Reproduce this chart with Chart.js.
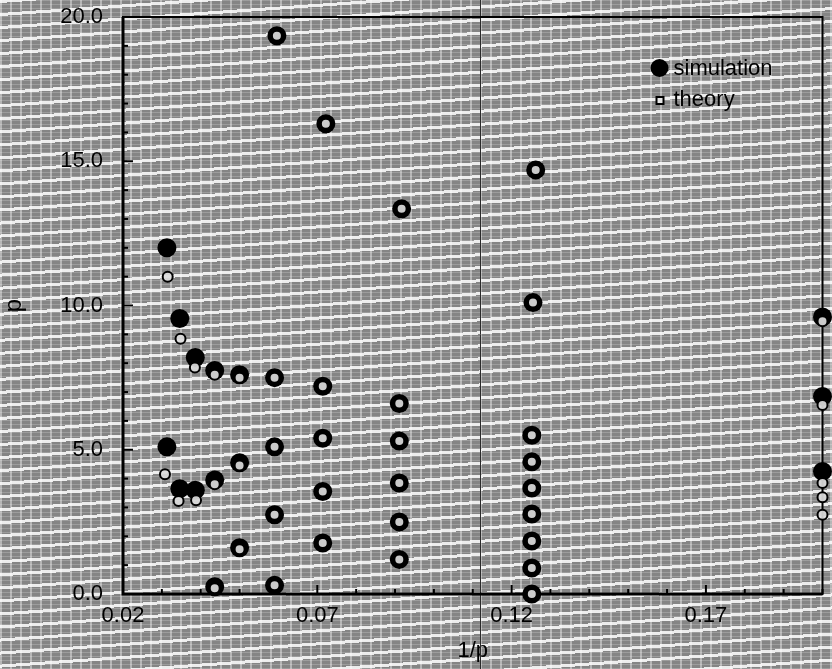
<!DOCTYPE html>
<html lang="en">
<head>
  <meta charset="UTF-8" />
  <title>p vs 1/p</title>
  <script src="https://cdn.jsdelivr.net/npm/chart.js"></script>
  <style>
    html, body {
      margin: 0;
      padding: 0;
    }
    body {
      width: 832px;
      height: 669px;
      overflow: hidden;
      background-color: #858585;
      background-image:
        repeating-linear-gradient(176deg, rgba(255,255,255,0.85) 0 3px, transparent 3px 13px),
        repeating-linear-gradient(90deg, rgba(255,255,255,0.4) 0 2px, transparent 2px 10px),
        repeating-linear-gradient(0deg, rgba(210,210,210,0.3) 0 1px, transparent 1px 4px);
    }
    canvas {
      display: block;
    }
  </style>
</head>
<body>
  <canvas id="chart" width="832" height="669"></canvas>

  <script>
    // values, column by column (1/p, p)
    const simX = [
      0.0313, 0.0313,
      0.0346, 0.0346,
      0.0386, 0.0386,
      0.0436, 0.0436, 0.0436,
      0.0500, 0.0500, 0.0500,
      0.0596, 0.0590, 0.0590, 0.0590, 0.0590,
      0.0722, 0.0714, 0.0714, 0.0714, 0.0714,
      0.0917, 0.0911, 0.0911, 0.0911, 0.0911, 0.0911,
      0.1262, 0.1255, 0.1252, 0.1252, 0.1252, 0.1252, 0.1252, 0.1252, 0.1252,
      0.2000, 0.2000, 0.2000
    ];
    const simY = [
      12.0, 5.1,
      9.55, 3.65,
      8.2, 3.6,
      7.75, 3.95, 0.25,
      7.6, 4.55, 1.6,
      19.35, 7.5, 5.1, 2.75, 0.3,
      16.3, 7.2, 5.4, 3.55, 1.77,
      13.35, 6.6, 5.3, 3.85, 2.5, 1.2,
      14.7, 10.1, 5.5, 4.58, 3.67, 2.77, 1.84, 0.9, 0.0,
      9.6, 6.85, 4.25
    ];
    const theoryX = [
      0.0315, 0.0308,
      0.0348, 0.0343,
      0.0385, 0.0388,
      0.0436, 0.0436, 0.0436,
      0.0500, 0.0500, 0.0500,
      0.0596, 0.0590, 0.0590, 0.0590, 0.0590,
      0.0722, 0.0714, 0.0714, 0.0714, 0.0714,
      0.0917, 0.0911, 0.0911, 0.0911, 0.0911, 0.0911,
      0.1262, 0.1255, 0.1252, 0.1252, 0.1252, 0.1252, 0.1252, 0.1252, 0.1252,
      0.2000, 0.2000, 0.2000, 0.2000, 0.2000
    ];
    const theoryY = [
      11.0, 4.15,
      8.85, 3.22,
      7.85, 3.25,
      7.6, 3.8, 0.2,
      7.5, 4.45, 1.55,
      19.35, 7.5, 5.1, 2.75, 0.3,
      16.3, 7.2, 5.4, 3.55, 1.77,
      13.35, 6.6, 5.3, 3.85, 2.5, 1.2,
      14.7, 10.1, 5.5, 4.58, 3.67, 2.77, 1.84, 0.9, 0.0,
      9.45, 6.55, 3.85, 3.35, 2.75
    ];
    const xMin = 0.02, xMax = 0.2, xStep = 0.01;
    const yMin = 0, yMax = 20, yStep = 1;
    const legendLabels = ['simulation', 'theory'];
    const creaseX = 0.1118; // thin fold line in the scan

    const font = '"Liberation Sans", Arial, sans-serif';

    // inward ticks, frame, crease and legend
    const decorPlugin = {
      id: 'decor',
      beforeDatasetsDraw(chart) {
        const { ctx, chartArea: a, scales: { x, y } } = chart;
        ctx.save();
        ctx.strokeStyle = '#2a2a2a';
        ctx.lineWidth = 1;
        const cx = Math.round(x.getPixelForValue(creaseX)) + 0.5;
        ctx.beginPath();
        ctx.moveTo(cx, 0);
        ctx.lineTo(cx, chart.height);
        ctx.stroke();

        ctx.strokeStyle = '#000';
        ctx.lineWidth = 2;
        x.ticks.forEach((t, i) => {
          const px = x.getPixelForValue(t.value);
          const len = i % 5 === 0 ? 9 : 5;
          ctx.beginPath();
          ctx.moveTo(px, a.bottom);
          ctx.lineTo(px, a.bottom - len);
          ctx.stroke();
        });
        y.ticks.forEach(t => {
          const py = y.getPixelForValue(t.value);
          const len = Math.round(t.value) % 5 === 0 ? 10 : 5;
          ctx.beginPath();
          ctx.moveTo(a.left, py);
          ctx.lineTo(a.left + len, py);
          ctx.stroke();
        });
        ctx.lineWidth = 2;
        ctx.strokeRect(a.left, a.top, a.right - a.left, a.bottom - a.top);
        ctx.lineWidth = 3;
        ctx.beginPath();
        ctx.moveTo(a.left, a.top);
        ctx.lineTo(a.left, a.bottom);
        ctx.lineTo(a.right, a.bottom);
        ctx.stroke();
        ctx.restore();
      },
      afterDraw(chart) {
        const { ctx, chartArea: a } = chart;
        const lx = a.right - 163, ly = a.top + 51;
        ctx.save();
        ctx.fillStyle = '#000';
        ctx.beginPath();
        ctx.arc(lx, ly, 9, 0, Math.PI * 2);
        ctx.fill();
        ctx.fillStyle = '#e6e6e6';
        ctx.strokeStyle = '#000';
        ctx.lineWidth = 2;
        ctx.fillRect(lx - 3, ly + 29, 7, 7);
        ctx.strokeRect(lx - 3, ly + 29, 7, 7);
        ctx.fillStyle = '#000';
        ctx.font = '22px ' + font;
        ctx.textBaseline = 'middle';
        ctx.fillText(legendLabels[0], lx + 14, ly + 1);
        ctx.fillText(legendLabels[1], lx + 14, ly + 32);
        ctx.restore();
      }
    };

    new Chart(document.getElementById('chart'), {
      type: 'scatter',
      data: {
        datasets: [
          {
            label: legendLabels[0],
            data: simX.map((v, i) => ({ x: v, y: simY[i] })),
            order: 2,
            pointStyle: 'circle',
            pointRadius: 9.5,
            pointHoverRadius: 9.5,
            backgroundColor: '#000',
            borderColor: '#000',
            borderWidth: 0,
            clip: false
          },
          {
            label: legendLabels[1],
            data: theoryX.map((v, i) => ({ x: v, y: theoryY[i] })),
            order: 1,
            pointStyle: 'circle',
            pointRadius: 5,
            pointHoverRadius: 5,
            backgroundColor: 'rgba(220,220,220,0.92)',
            borderColor: '#000',
            borderWidth: 2,
            clip: false
          }
        ]
      },
      options: {
        responsive: false,
        animation: false,
        devicePixelRatio: 1,
        layout: { padding: { left: 0, top: 17, right: 7, bottom: 0 } },
        plugins: {
          legend: { display: false },
          tooltip: { enabled: false }
        },
        scales: {
          x: {
            type: 'linear',
            min: xMin,
            max: xMax,
            grid: { display: false, drawTicks: false },
            border: { display: false },
            ticks: {
              stepSize: xStep,
              autoSkip: false,
              maxRotation: 0,
              padding: 9,
              color: '#000',
              font: { family: font, size: 22 },
              callback: (v, i) => (i % 5 === 0 ? v.toFixed(2) : '')
            },
            title: {
              display: true,
              text: '1/p',
              color: '#000',
              font: { family: font, size: 22 },
              padding: { top: 0, bottom: 5 }
            },
            afterFit: s => {
              s.height = 75;
              s.paddingLeft = 0;
              s.paddingRight = 0;
            }
          },
          y: {
            type: 'linear',
            min: yMin,
            max: yMax,
            grid: { display: false, drawTicks: false },
            border: { display: false },
            ticks: {
              stepSize: yStep,
              autoSkip: false,
              padding: 20,
              color: '#000',
              font: { family: font, size: 22 },
              callback: v => (Math.round(v) % 5 === 0 ? v.toFixed(1) : '')
            },
            title: {
              display: true,
              text: 'p',
              color: '#000',
              font: { family: font, size: 24 },
              padding: 0
            },
            afterFit: s => {
              s.width = 123;
              s.paddingTop = 0;
              s.paddingBottom = 0;
            }
          }
        }
      },
      plugins: [decorPlugin]
    });
  </script>
</body>
</html>
